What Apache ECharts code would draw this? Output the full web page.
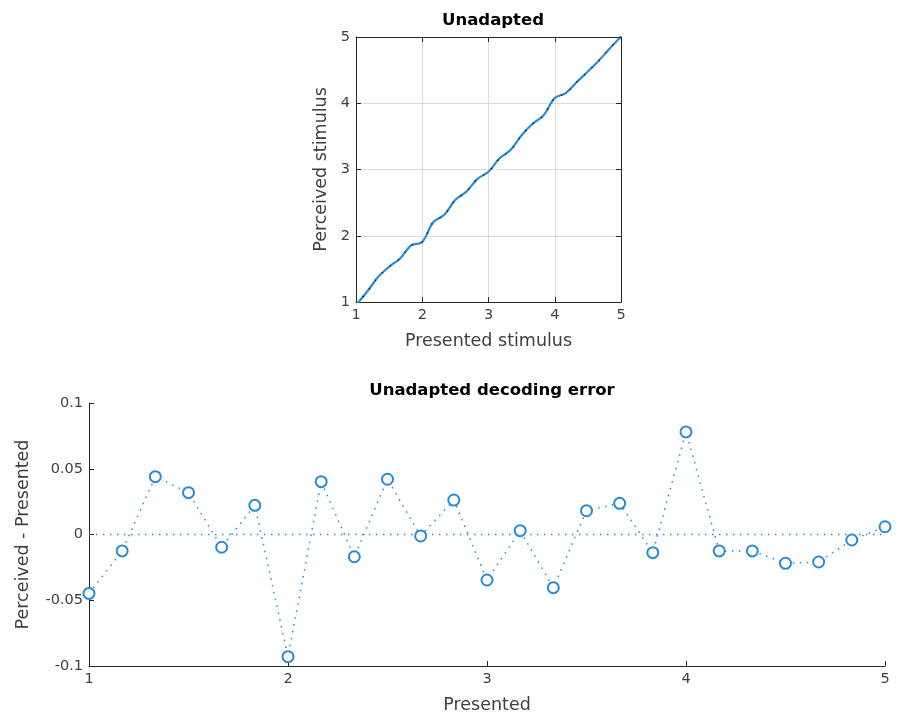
<!DOCTYPE html>
<html>
<head>
<meta charset="utf-8">
<script src="https://cdn.jsdelivr.net/npm/echarts@6/dist/echarts.min.js"></script>
<style>html,body{margin:0;padding:0;background:#fff}#c{width:898px;height:715px}</style>
</head>
<body>
<div id="c"></div>
<script>
const presented = [1, 1.1667, 1.3333, 1.5, 1.6667, 1.8333, 2, 2.1667, 2.3333, 2.5, 2.6667, 2.8333, 3, 3.1667, 3.3333, 3.5, 3.6667, 3.8333, 4, 4.1667, 4.3333, 4.5, 4.6667, 4.8333, 5];
const decodingError = [-0.0448, -0.0125, 0.044, 0.0318, -0.0097, 0.0222, -0.0929, 0.0402, -0.0169, 0.042, -0.0011, 0.0262, -0.0346, 0.0029, -0.0404, 0.0181, 0.0237, -0.0138, 0.078, -0.0125, -0.0125, -0.0219, -0.0209, -0.0042, 0.0059];
const xTicks = [1, 2, 3, 4, 5];
const errTicks = [-0.1, -0.05, 0, 0.05, 0.1];

const blue = '#2a8bd3';
const txt = '#262626';
const tickTxt = '#404040';
const font = 'DejaVu Sans, Liberation Sans, sans-serif';

const perceived = presented.map((p, i) => [p, p + decodingError[i]]);
const errData = presented.map((p, i) => [p, decodingError[i]]);
const zeroLine = [[presented[0], 0], [presented[presented.length - 1], 0]];

const chart = echarts.init(document.getElementById('c'), null, {renderer: 'canvas'});

const axisLabel = {color: tickTxt, fontSize: 14.5, fontFamily: font, margin: 6};
const axisLine = {show: true, onZero: false, lineStyle: {color: txt, width: 1}};
const axisTick = {show: true, inside: true, length: 5, lineStyle: {color: txt}};
const nameStyle = {color: tickTxt, fontSize: 17.5, fontFamily: font};

function fmtErr(v) { return v === 0 ? '0' : String(v); }

chart.setOption({
  animation: false,
  backgroundColor: '#fff',
  title: [
    {text: 'Unadapted', left: 488, top: 7, textAlign: 'center',
     textStyle: {fontSize: 16.5, fontWeight: 'bold', color: '#000', fontFamily: font}},
    {text: 'Unadapted decoding error', left: 487, top: 377, textAlign: 'center',
     textStyle: {fontSize: 16.5, fontWeight: 'bold', color: '#000', fontFamily: font}}
  ],
  grid: [
    {left: 356, right: 277, top: 37, height: 265, show: false},
    {left: 89, right: 13, top: 403, height: 263, show: false}
  ],
  xAxis: [
    {gridIndex: 0, type: 'value', min: 1, max: 5, interval: 1, position: 'bottom',
     name: 'Presented stimulus', nameLocation: 'middle', nameGap: 30, nameTextStyle: nameStyle,
     axisLine, axisTick, axisLabel,
     splitLine: {show: true, lineStyle: {color: '#dcdcdc', width: 1}}},
    {gridIndex: 0, type: 'value', min: 1, max: 5, interval: 1, position: 'top',
     axisLine, axisTick, axisLabel: {show: false}, splitLine: {show: false}},
    {gridIndex: 1, type: 'value', min: 1, max: 5, interval: 1, position: 'bottom',
     name: 'Presented', nameLocation: 'middle', nameGap: 30, nameTextStyle: nameStyle,
     axisLine, axisTick, axisLabel, splitLine: {show: false}}
  ],
  yAxis: [
    {gridIndex: 0, type: 'value', min: 1, max: 5, interval: 1, position: 'left',
     name: 'Perceived stimulus', nameLocation: 'middle', nameGap: 26, nameTextStyle: nameStyle,
     axisLine, axisTick, axisLabel,
     splitLine: {show: true, lineStyle: {color: '#dcdcdc', width: 1}}},
    {gridIndex: 0, type: 'value', min: 1, max: 5, interval: 1, position: 'right',
     axisLine, axisTick, axisLabel: {show: false}, splitLine: {show: false}},
    {gridIndex: 1, type: 'value', min: -0.1, max: 0.1, interval: 0.05, position: 'left',
     name: 'Perceived - Presented', nameLocation: 'middle', nameGap: 57, nameTextStyle: nameStyle,
     axisLine, axisTick,
     axisLabel: Object.assign({}, axisLabel, {formatter: fmtErr}),
     splitLine: {show: false}}
  ],
  series: [
    {type: 'line', xAxisIndex: 0, yAxisIndex: 0, data: perceived, smooth: 0.35,
     showSymbol: false, lineStyle: {color: blue, width: 2.2}, z: 3},
    {type: 'line', xAxisIndex: 0, yAxisIndex: 0, data: perceived, smooth: 0.35,
     showSymbol: false, lineStyle: {color: '#111', width: 1.3, type: [1.3, 9]}, z: 5},
    {type: 'line', xAxisIndex: 2, yAxisIndex: 2, data: zeroLine,
     showSymbol: false, lineStyle: {color: blue, width: 1.5, type: [1.5, 5.5]}, z: 2},
    {type: 'line', xAxisIndex: 2, yAxisIndex: 2, data: errData,
     symbol: 'emptyCircle', symbolSize: 11, showSymbol: true,
     itemStyle: {color: blue, borderColor: blue, borderWidth: 1.8},
     lineStyle: {color: blue, width: 1.5, type: [1.5, 5.5]}, z: 3}
  ]
});
</script>
</body>
</html>
